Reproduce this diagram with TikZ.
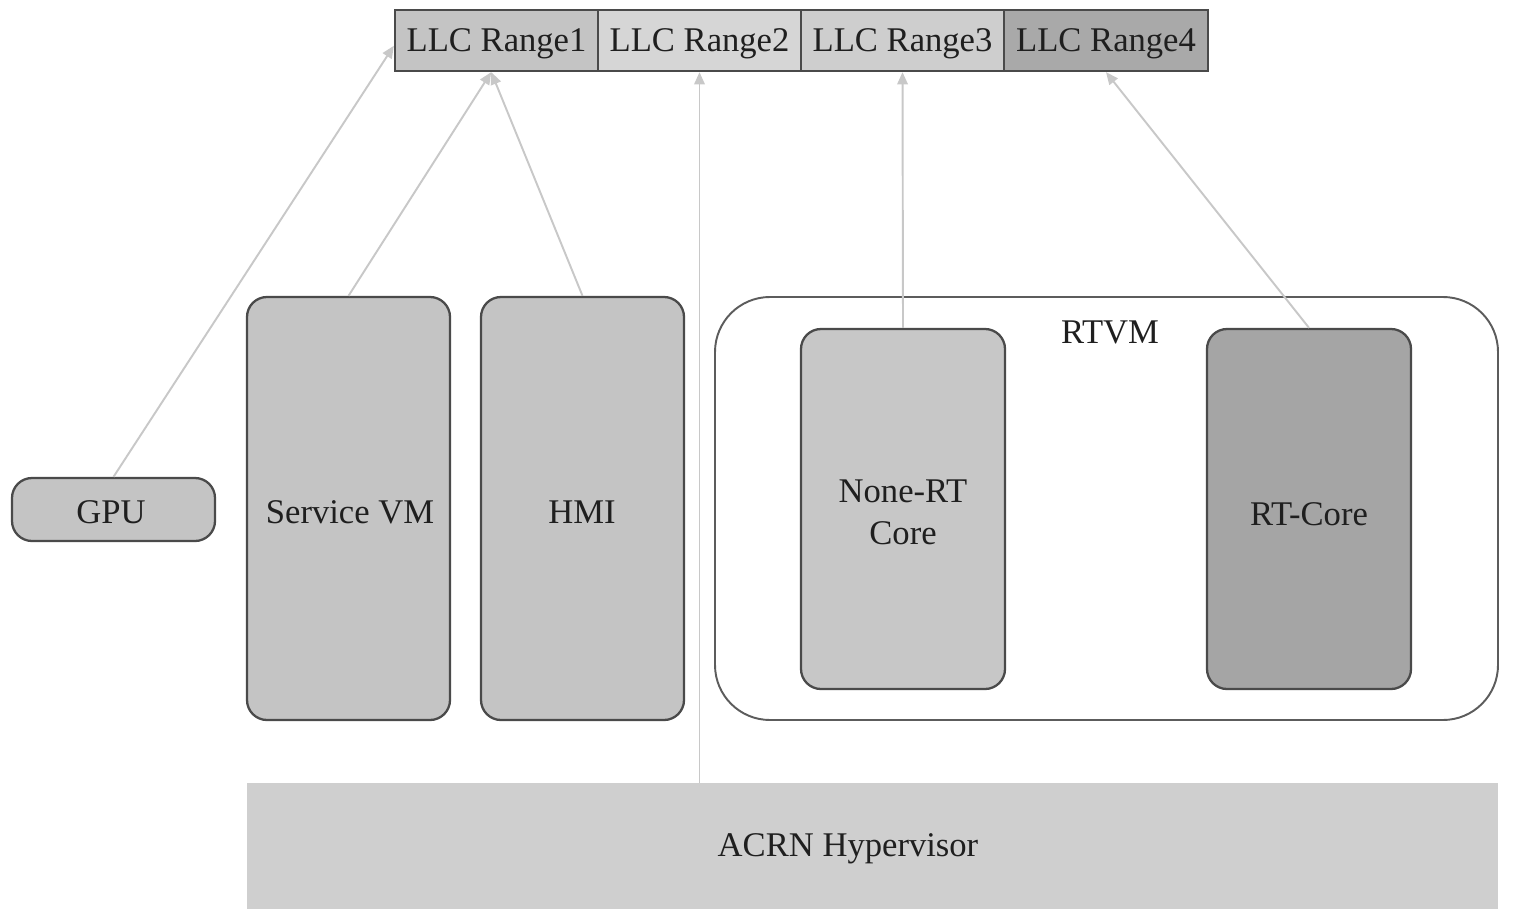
\documentclass[tikz,border=0pt]{standalone}
\usepackage{fontspec}
\setmainfont{Liberation Serif}
\usetikzlibrary{arrows.meta}
\definecolor{edgegray}{HTML}{4A4A4A}
\definecolor{arrgray}{HTML}{C8C8C8}
\definecolor{fillA}{HTML}{C4C4C4}
\definecolor{fillB}{HTML}{D6D6D6}
\definecolor{fillC}{HTML}{CECECE}
\definecolor{fillD}{HTML}{A9A9A9}
\definecolor{fillE}{HTML}{A5A5A5}
\definecolor{fillN}{HTML}{C7C7C7}
\definecolor{fillH}{HTML}{CFCFCF}
\begin{document}
\begin{tikzpicture}[x=0.02cm,y=-0.02cm,
  txt/.style={font=\fontsize{19.7}{24}\selectfont, text=black!88, align=center, inner sep=0pt},
  cell/.style={draw=edgegray, line width=1.3pt, inner sep=0pt, minimum height=61*0.02cm},
  vbox/.style={draw=edgegray, line width=1.3pt, rounded corners=0.4cm, inner sep=0pt},
  arr/.style={draw=arrgray, line width=1.1pt, -{Triangle[length=7pt,width=6pt]}}
]
\useasboundingbox (0,0) rectangle (1517,922);
% LLC ranges
\node[cell, fill=fillA, minimum width=203*0.02cm] (r1) at (496.5,40.5) {};
\node[cell, fill=fillB, minimum width=203*0.02cm] (r2) at (699.5,40.5) {};
\node[cell, fill=fillC, minimum width=203*0.02cm] (r3) at (902.5,40.5) {};
\node[cell, fill=fillD, minimum width=204*0.02cm] (r4) at (1106,40.5) {};
\node[txt] (t1) at (496.5,44) {LLC Range1};
\node[txt] (t2) at (699.5,44) {LLC Range2};
\node[txt] (t3) at (902.5,44) {LLC Range3};
\node[txt] (t4) at (1106,44) {LLC Range4};
% boxes
\node[vbox, fill=fillA, minimum width=203*0.02cm, minimum height=63*0.02cm] (gpu) at (113.5,509.5) {};
\node[vbox, fill=fillA, minimum width=203*0.02cm, minimum height=423*0.02cm] (svm) at (348.5,508.5) {};
\node[vbox, fill=fillA, minimum width=203*0.02cm, minimum height=423*0.02cm] (hmi) at (582.5,508.5) {};
\node[draw=edgegray!90, line width=1.1pt, rounded corners=1.1cm, fill=white, minimum width=783*0.02cm, minimum height=423*0.02cm, inner sep=0pt] (rtvm) at (1106.5,508.5) {};
\node[vbox, fill=fillN, minimum width=204*0.02cm, minimum height=360*0.02cm] (nrt) at (903,509) {};
\node[vbox, fill=fillE, minimum width=204*0.02cm, minimum height=360*0.02cm] (rtc) at (1309,509) {};
\node[fill=fillH, minimum width=1251*0.02cm, minimum height=126*0.02cm, inner sep=0pt] (hyp) at (872.5,846) {};
% labels
\node[txt] (tgpu) at (111,512) {GPU};
\node[txt] (tsvm) at (350,512) {Service VM};
\node[txt] (thmi) at (582,512) {HMI};
\node[txt] (trtvm) at (1110,332) {RTVM};
\node[txt] (tnrt) at (903,512) {None-RT\\Core};
\node[txt] (trtc) at (1309,514) {RT-Core};
\node[txt] (thyp) at (848,849) {ACRN Hypervisor};
% connectors
\draw[arr] (gpu.north) -- ([yshift=-3]r1.west);
\draw[arr] (svm.north) -- ([xshift=-3]r1.south);
\draw[arr] (hmi.north) -- ([xshift=-3]r1.south);
\draw[arr] (r2.south |- hyp.north) -- (r2.south);
\draw[arr] (nrt.north) -- (r3.south);
\draw[arr] (rtc.north) -- (r4.south);
\end{tikzpicture}
\end{document}
